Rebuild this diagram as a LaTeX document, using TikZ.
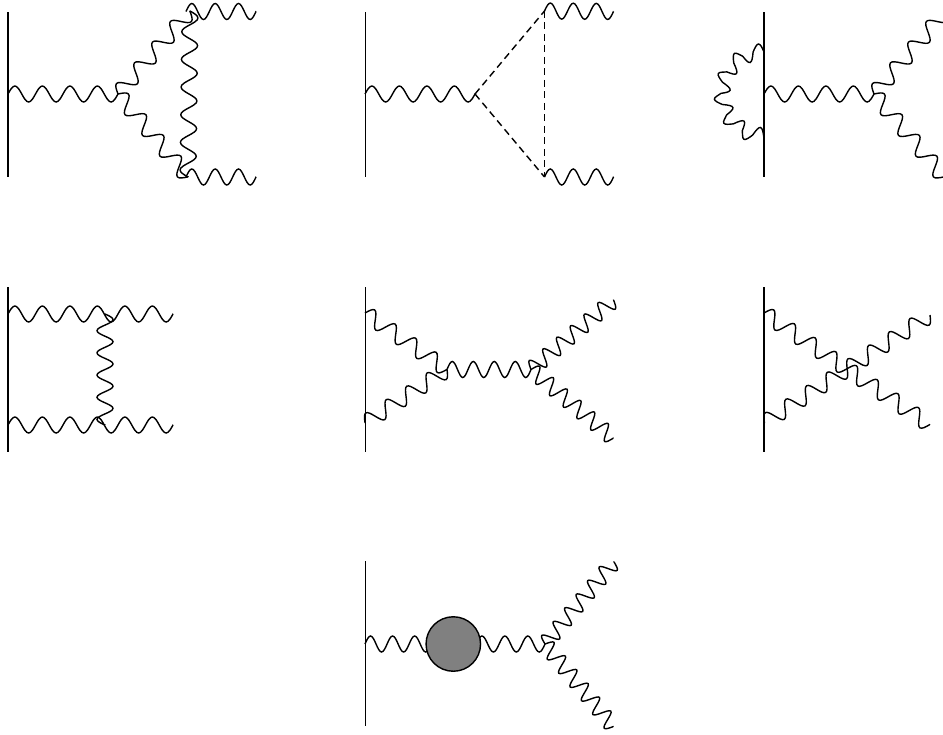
\documentclass[tikz,border=0pt]{standalone}
\usepackage{tikz}
\usetikzlibrary{decorations,calc}
\newcommand{\halfwave}[1]{%
  \pgfmathsetlengthmacro\waveq{\pgfdecoratedpathlength/4/\photonwaves}%
  \pgfmathsetlengthmacro\wavea{#1*\pgfdecorationsegmentamplitude}%
  \pgfpathcurveto{\pgfpoint{.3261*\waveq}{.5123*\wavea}}{\pgfpoint{.6381*\waveq}{\wavea}}{\pgfpoint{\waveq}{\wavea}}%
  \pgfpathcurveto{\pgfpoint{1.3619*\waveq}{\wavea}}{\pgfpoint{1.6739*\waveq}{.5123*\wavea}}{\pgfpoint{2*\waveq}{0pt}}}
\pgfdeclaredecoration{sinewave}{up}{
  \state{up}[switch if less than=\pgfdecoratedpathlength/5/\photonwaves to final,width=\pgfdecoratedpathlength/2/\photonwaves,next state=down]{\halfwave{1}}
  \state{down}[switch if less than=\pgfdecoratedpathlength/5/\photonwaves to final,width=\pgfdecoratedpathlength/2/\photonwaves,next state=up]{\halfwave{-1}}
  \state{final}{\pgfpathlineto{\pgfpointdecoratedpathlast}}
}
\tikzset{
  wall/.style={line width=0.8pt,draw=black},
  photon/.style={line width=0.8pt,draw=black,/utils/exec={\def\photonwaves{#1}},decorate,decoration={sinewave,amplitude=0.16cm}},
  scalar/.style={line width=0.8pt,draw=black,dash pattern=on 0.14cm off 0.09cm},
  blob/.style={circle,draw=black,fill=black!50,line width=0.8pt,minimum size=1.09cm,inner sep=0pt}
}
\begin{document}
\begin{tikzpicture}[x=0.02cm,y=-0.02cm]
\useasboundingbox (0,0) rectangle (943,734);
% top row
\coordinate (aT) at (7.8,12); \coordinate (aB) at (7.8,177); \coordinate (aI) at (8,94);
\coordinate (aV) at (118,94); \coordinate (aU) at (190,11); \coordinate (aD) at (188,177);
\coordinate (aR) at (186,11.5); \coordinate (aS) at (186,177);
\coordinate (aO) at (256,11.5); \coordinate (aP) at (256,177);
\draw[wall] (aT) -- (aB);
\draw[photon=4] (aI) -- (aV);
\draw[photon=4] (aV) -- (aU);
\draw[photon=4] (aV) -- (aD);
\draw[photon=6] (aU) -- (aD);
\draw[photon=3] (aR) -- (aO);
\draw[photon=3] (aS) -- (aP);

\coordinate (bT) at (365.2,12); \coordinate (bB) at (365.2,177); \coordinate (bI) at (365,94);
\coordinate (bV) at (475,94); \coordinate (bU) at (544.5,11); \coordinate (bD) at (544.5,177);
\coordinate (bO) at (613.5,11.5); \coordinate (bP) at (613.5,177);
\draw[wall] (bT) -- (bB);
\draw[photon=4] (bI) -- (bV);
\draw[scalar] (bV) -- (bU);
\draw[scalar] (bV) -- (bD);
\draw[scalar] (bU) -- (bD);
\draw[photon=3] (bU) -- (bO);
\draw[photon=3] (bD) -- (bP);

\coordinate (cT) at (763.8,12); \coordinate (cB) at (763.8,177); \coordinate (cI) at (764,94);
\coordinate (cV) at (874,94); \coordinate (cU) at (946,11); \coordinate (cD) at (944,177);
\coordinate (cL) at (764,52);
\draw[wall] (cT) -- (cB);
\draw[photon=4] (cI) -- (cV);
\draw[photon=4] (cV) -- (cU);
\draw[photon=4] (cV) -- (cD);
\draw[photon=6,decoration={amplitude=-0.16cm}] (cL) arc[start angle=270,end angle=90,radius=41.6];

% middle row
\coordinate (dT) at (7.8,287); \coordinate (dB) at (7.8,452); \coordinate (dI) at (8,314);
\coordinate (dJ) at (8,425); \coordinate (dU) at (105,314); \coordinate (dD) at (105,425);
\coordinate (dO) at (173,314); \coordinate (dP) at (173,425);
\draw[wall] (dT) -- (dB);
\draw[photon=6] (dI) -- (dO);
\draw[photon=6] (dJ) -- (dP);
\draw[photon=5] (dU) -- (dD);

\coordinate (eT) at (365.2,287); \coordinate (eB) at (365.2,452); \coordinate (eI) at (365,313);
\coordinate (eJ) at (365,423); \coordinate (eV) at (447,369.5); \coordinate (eW) at (531,369.5);
\coordinate (eO) at (613.7,300); \coordinate (eP) at (613.3,438.3);
\draw[wall] (eT) -- (eB);
\draw[photon=4] (eI) -- (eV);
\draw[photon=4] (eV) -- (eJ);
\draw[photon=4] (eV) -- (eW);
\draw[photon=6] (eW) -- (eO);
\draw[photon=6] (eW) -- (eP);

\coordinate (fT) at (763.8,287); \coordinate (fB) at (763.8,452); \coordinate (fI) at (764,313);
\coordinate (fJ) at (764,423); \coordinate (fO) at (930,315); \coordinate (fP) at (930,425);
\draw[wall] (fT) -- (fB);
\draw[photon=8] (fI) -- (fP);
\draw[photon=8] (fO) -- (fJ);

% bottom row
\coordinate (gT) at (365.2,561); \coordinate (gB) at (365.2,726); \coordinate (gI) at (365,644);
\coordinate (gM) at (453.3,644); \coordinate (gV) at (545,644);
\coordinate (gO) at (614,561.7); \coordinate (gP) at (613.3,726.7);
\draw[wall] (gT) -- (gB);
\draw[photon=4] (gI) -- (gM);
\draw[photon=4] (gM) -- (gV);
\draw[photon=6] (gV) -- (gO);
\draw[photon=6] (gV) -- (gP);
\node[blob] (gC) at (gM) {};
\end{tikzpicture}
\end{document}
